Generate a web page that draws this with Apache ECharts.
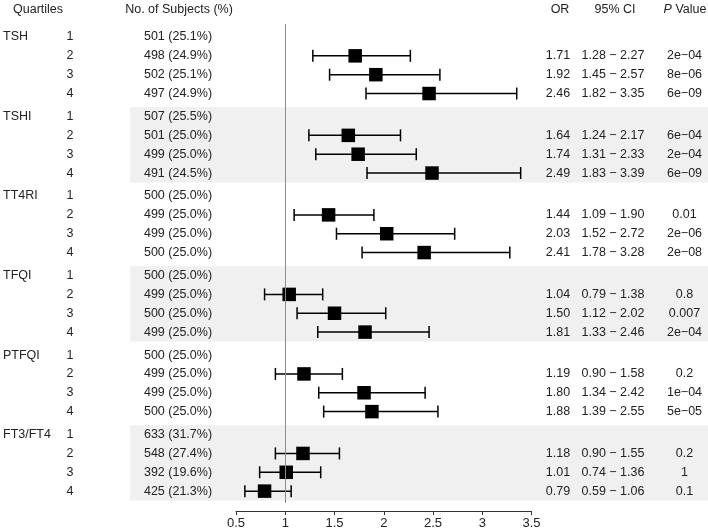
<!DOCTYPE html>
<html><head><meta charset="utf-8">
<script src="https://cdn.jsdelivr.net/npm/echarts@6/dist/echarts.min.js"></script>
<style>html,body{margin:0;padding:0;background:#fff}#c{width:708px;height:530px}</style>
</head><body><div id="c"></div>
<script>
// ---- data ----
const groups = ['TSH', 'TSHI', 'TT4RI', 'TFQI', 'PTFQI', 'FT3/FT4'];
const quartiles = ['1', '2', '3', '4'];
const subjects = [
  ['501 (25.1%)', '498 (24.9%)', '502 (25.1%)', '497 (24.9%)'],
  ['507 (25.5%)', '501 (25.0%)', '499 (25.0%)', '491 (24.5%)'],
  ['500 (25.0%)', '499 (25.0%)', '499 (25.0%)', '500 (25.0%)'],
  ['500 (25.0%)', '499 (25.0%)', '500 (25.0%)', '499 (25.0%)'],
  ['500 (25.0%)', '499 (25.0%)', '499 (25.0%)', '500 (25.0%)'],
  ['633 (31.7%)', '548 (27.4%)', '392 (19.6%)', '425 (21.3%)']
];
const oddsRatios = [
  [null, 1.71, 1.92, 2.46],
  [null, 1.64, 1.74, 2.49],
  [null, 1.44, 2.03, 2.41],
  [null, 1.04, 1.50, 1.81],
  [null, 1.19, 1.80, 1.88],
  [null, 1.18, 1.01, 0.79]
];
const ciLower = [
  [null, 1.28, 1.45, 1.82],
  [null, 1.24, 1.31, 1.83],
  [null, 1.09, 1.52, 1.78],
  [null, 0.79, 1.12, 1.33],
  [null, 0.90, 1.34, 1.39],
  [null, 0.90, 0.74, 0.59]
];
const ciUpper = [
  [null, 2.27, 2.57, 3.35],
  [null, 2.17, 2.33, 3.39],
  [null, 1.90, 2.72, 3.28],
  [null, 1.38, 2.02, 2.46],
  [null, 1.58, 2.42, 2.55],
  [null, 1.55, 1.36, 1.06]
];
const pValues = [
  [null, '2e\u221204', '8e\u221206', '6e\u221209'],
  [null, '6e\u221204', '2e\u221204', '6e\u221209'],
  [null, '0.01', '2e\u221206', '2e\u221208'],
  [null, '0.8', '0.007', '2e\u221204'],
  [null, '0.2', '1e\u221204', '5e\u221205'],
  [null, '0.2', '1', '0.1']
];
const shadedGroups = [1, 3, 5];
const referenceValue = 1;
const xMin = 0.5, xMax = 3.5, xStep = 0.5;

// ---- layout helpers ----
const GROUP_STEP = 4.22;
const FONT = '"Liberation Sans", Arial, sans-serif';
const TXT = '#222';
const pos = (g, r) => g * GROUP_STEP + r;

const rowData = [], ciData = [], pointData = [];
groups.forEach((gName, g) => {
  quartiles.forEach((q, r) => {
    rowData.push([1, pos(g, r), g, r]);
    if (oddsRatios[g][r] != null) {
      ciData.push([ciLower[g][r], pos(g, r), ciUpper[g][r]]);
      pointData.push([oddsRatios[g][r], pos(g, r)]);
    }
  });
});
const bandData = shadedGroups.map(g => [1, pos(g, 0) - 0.5, pos(g, 3) + 0.5]);

function txt(x, y, text, align, extra) {
  return Object.assign({
    type: 'text',
    style: {
      x: x, y: y, text: text,
      align: align, textAlign: align,
      verticalAlign: 'middle', textVerticalAlign: 'middle',
      font: '12.5px ' + FONT, fill: TXT
    }
  }, extra || {});
}

const chart = echarts.init(document.getElementById('c'), null, {renderer: 'canvas'});
chart.setOption({
  animation: false,
  backgroundColor: '#fff',
  grid: {left: 236, right: 176.5, top: 24, bottom: 27},
  xAxis: {
    type: 'value', position: 'bottom', min: xMin, max: xMax, interval: xStep, offset: 8,
    axisLine: {show: true, onZero: false, lineStyle: {color: '#333', width: 1}},
    axisTick: {show: true, length: 4, lineStyle: {color: '#333'}},
    axisLabel: {fontSize: 13, color: TXT, margin: 6, fontFamily: FONT},
    splitLine: {show: false}
  },
  yAxis: {type: 'value', min: -0.69, max: 24.73, inverse: true, show: false},
  graphic: [
    {type: 'text', left: 13, top: 3, style: {text: 'Quartiles', font: '12.5px ' + FONT, fill: TXT}},
    {type: 'text', x: 179, y: 10, style: {text: 'No. of Subjects (%)', align: 'center', verticalAlign: 'middle', font: '12.5px ' + FONT, fill: TXT}},
    {type: 'text', x: 560, y: 10, style: {text: 'OR', align: 'center', verticalAlign: 'middle', font: '12.5px ' + FONT, fill: TXT}},
    {type: 'text', x: 615, y: 10, style: {text: '95% CI', align: 'center', verticalAlign: 'middle', font: '12.5px ' + FONT, fill: TXT}},
    {type: 'text', x: 685, y: 10, style: {text: '{i|P} Value', align: 'center', verticalAlign: 'middle', font: '12.5px ' + FONT, fill: TXT,
      rich: {i: {fontStyle: 'italic', fontSize: 12.5, fontFamily: FONT, fill: TXT}}}}
  ],
  series: [
    {
      type: 'custom', z: 1, clip: false, silent: true,
      data: bandData,
      renderItem: function (params, api) {
        const y1 = api.coord([1, api.value(1)])[1];
        const y2 = api.coord([1, api.value(2)])[1];
        return {type: 'rect', shape: {x: 130, y: y1, width: 578, height: y2 - y1}, style: {fill: '#f0f0f0'}};
      },
      encode: {x: 0, y: 1},
      markLine: {
        silent: true, symbol: ['none', 'none'], label: {show: false},
        lineStyle: {color: '#8c8c8c', width: 1, type: 'solid'},
        data: [{xAxis: referenceValue}]
      }
    },
    {
      type: 'custom', z: 2, clip: false, silent: true,
      data: rowData,
      encode: {x: 0, y: 1},
      renderItem: function (params, api) {
        const g = api.value(2), r = api.value(3);
        const y = api.coord([1, api.value(1)])[1];
        const ch = [];
        if (r === 0) ch.push(txt(3, y, groups[g], 'left'));
        ch.push(txt(70, y, quartiles[r], 'center'));
        ch.push(txt(178, y, subjects[g][r], 'center'));
        if (oddsRatios[g][r] != null) {
          ch.push(txt(558, y, oddsRatios[g][r].toFixed(2), 'center'));
          ch.push(txt(613, y, ciLower[g][r].toFixed(2) + ' \u2212 ' + ciUpper[g][r].toFixed(2), 'center'));
          ch.push(txt(684.5, y, pValues[g][r], 'center'));
        }
        return {type: 'group', children: ch};
      }
    },
    {
      type: 'custom', z: 3, clip: false, silent: true,
      data: ciData,
      encode: {x: [0, 2], y: 1},
      renderItem: function (params, api) {
        const a = api.coord([api.value(0), api.value(1)]);
        const b = api.coord([api.value(2), api.value(1)]);
        const st = {stroke: '#000', lineWidth: 1.5};
        return {type: 'group', children: [
          {type: 'line', shape: {x1: a[0], y1: a[1], x2: b[0], y2: b[1]}, style: st},
          {type: 'line', shape: {x1: a[0], y1: a[1] - 6, x2: a[0], y2: a[1] + 6}, style: st},
          {type: 'line', shape: {x1: b[0], y1: b[1] - 6, x2: b[0], y2: b[1] + 6}, style: st}
        ]};
      }
    },
    {
      type: 'scatter', z: 4, silent: true,
      symbol: 'rect', symbolSize: 13.5,
      itemStyle: {color: '#000', opacity: 1},
      data: pointData
    }
  ]
});
</script>
</body></html>
